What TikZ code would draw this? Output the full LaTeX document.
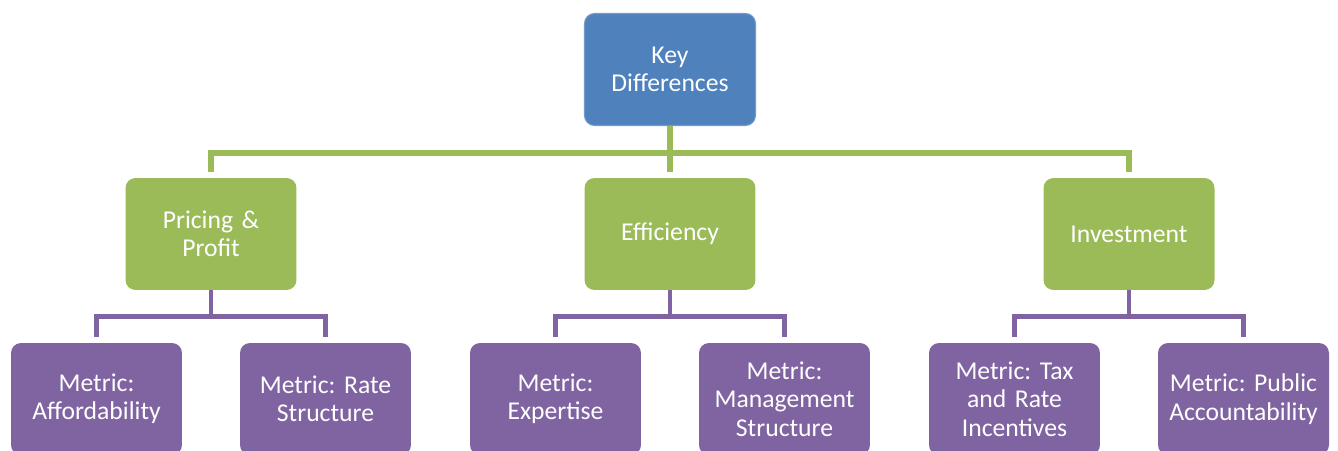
\documentclass[tikz,border=0pt]{standalone}
\usepackage{fontspec}
\setmainfont{Carlito}
\usepackage{tikz}

\definecolor{keyblue}{HTML}{4F81BD}
\definecolor{areagreen}{HTML}{9BBB59}
\definecolor{metricpurple}{HTML}{8064A2}

\tikzset{
  box/.style={rounded corners=0.2cm, minimum width=3.42cm, minimum height=2.24cm,
    text width=3.3cm, align=center, text=white, inner sep=0pt,
    font=\fontsize{14.6}{16.2}\selectfont\frenchspacing},
  keybox/.style={box, fill=keyblue, draw=keyblue!80!white, line width=0.6pt},
  areabox/.style={box, fill=areagreen},
  metricbox/.style={box, fill=metricpurple},
  gline/.style={draw=areagreen, line width=3.4pt, shorten >=0.12cm},
  pline/.style={draw=metricpurple, line width=2.8pt, shorten >=0.12cm}
}

\begin{document}
\begin{tikzpicture}[x=0.02cm, y=-0.02cm]
\useasboundingbox (0,0) rectangle (1338,450);
\clip (0,0) rectangle (1338,450);

\node[keybox] (top) at (670,69.5) {Key\\Differences};

\node[areabox] (g1) at (211,234) {Pricing \&\\Profit};
\node[areabox] (g2) at (670,234) {Efficiency};
\node[areabox] (g3) at (1129,234) {Investment};

\node[metricbox] (m1) at (96.5,399) {Metric:\\Affordability};
\node[metricbox] (m2) at (325.5,399) {Metric: Rate\\Structure};
\node[metricbox] (m3) at (555.5,399) {Metric:\\Expertise};
\node[metricbox] (m4) at (784.5,399) {Metric:\\Management\\Structure};
\node[metricbox] (m5) at (1014.5,399) {Metric: Tax\\and Rate\\Incentives};
\node[metricbox] (m6) at (1243.5,399) {Metric: Public\\Accountability};

% green tree below the top box
\path (top.south) ++(0,27) coordinate (gbar);
\draw[gline, shorten >=0pt] (top.south) -- (gbar);
\foreach \g in {g1,g2,g3}
  \draw[gline] (gbar) -| (\g.north);

% purple trees below each area
\foreach \g/\a/\b in {g1/m1/m2, g2/m3/m4, g3/m5/m6} {
  \path (\g.south) ++(0,26) coordinate (\g bar);
  \draw[pline, shorten >=0pt] (\g.south) -- (\g bar);
  \draw[pline] (\g bar) -| (\a.north);
  \draw[pline] (\g bar) -| (\b.north);
}
\end{tikzpicture}
\end{document}
